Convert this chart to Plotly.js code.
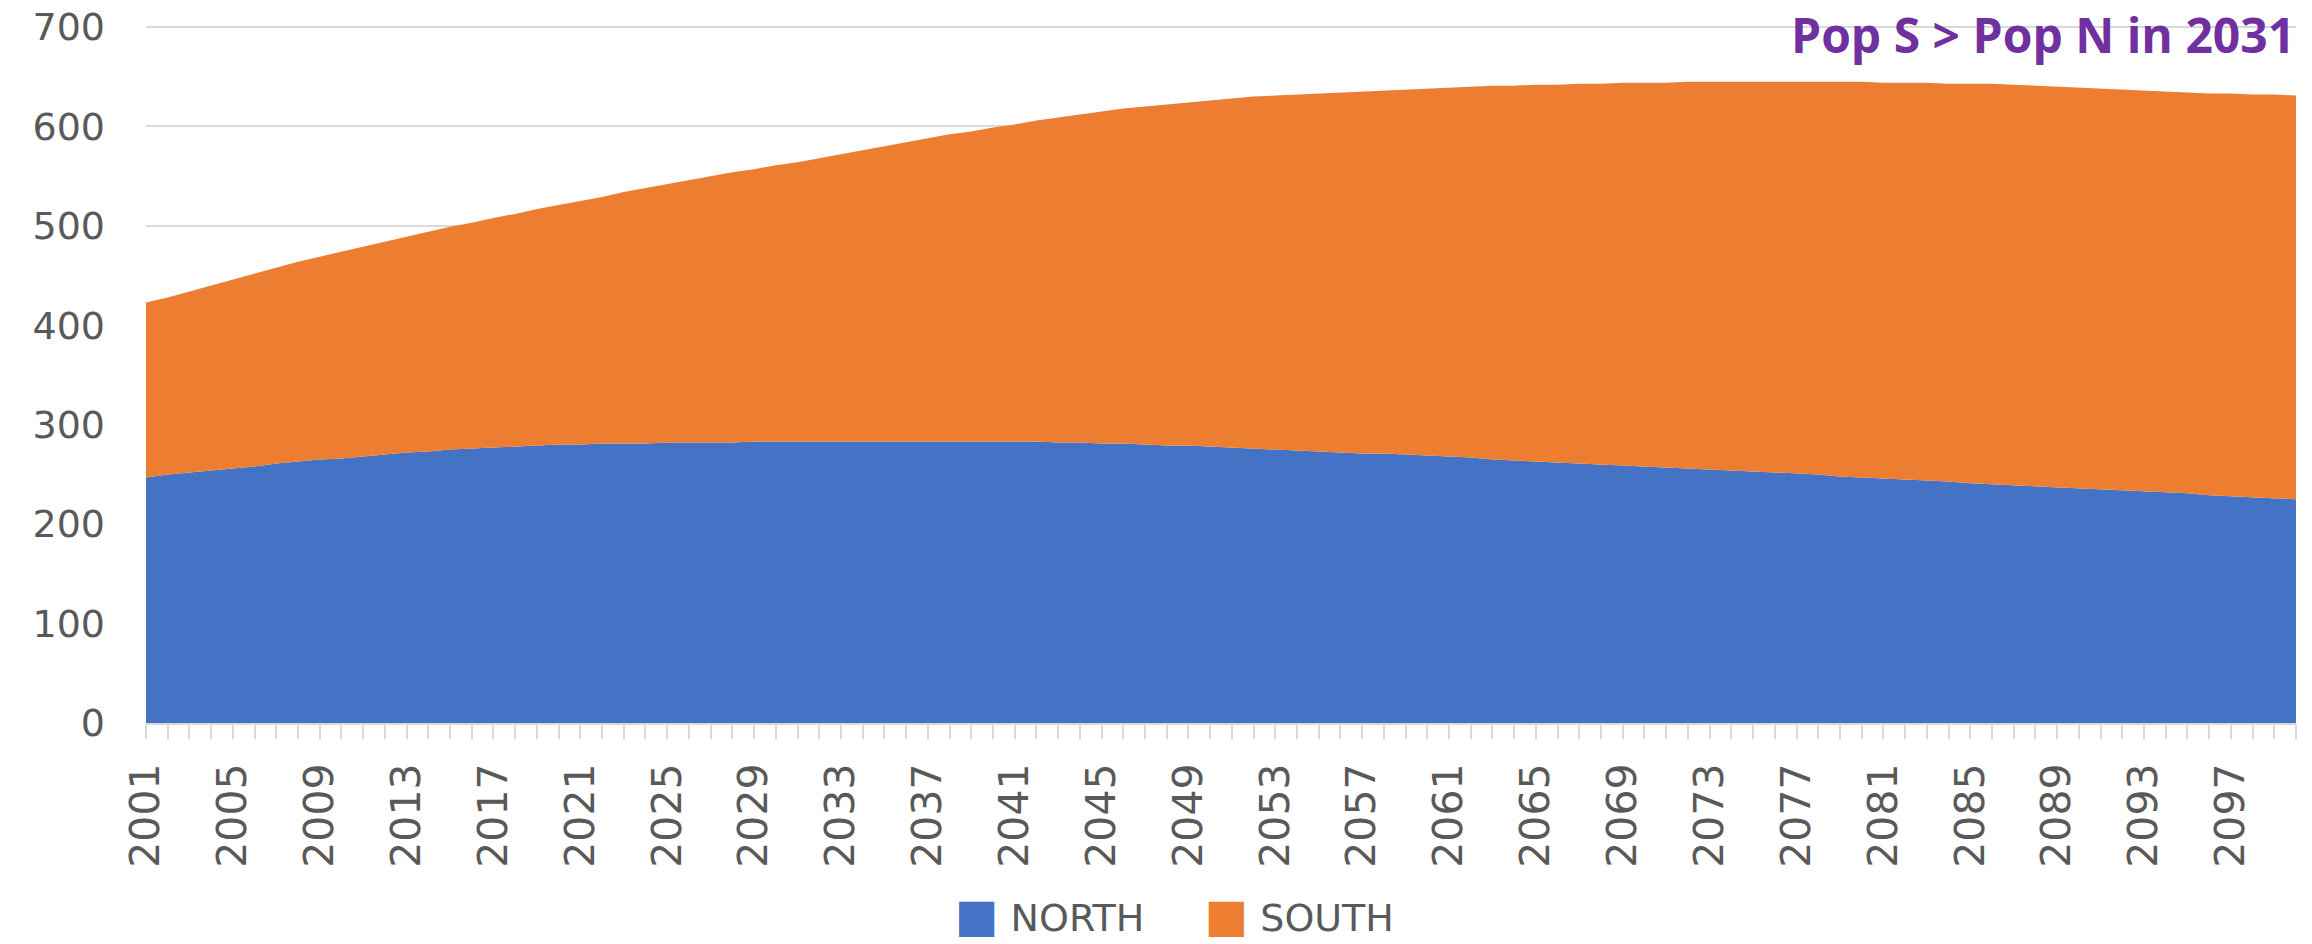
<!DOCTYPE html>
<html>
<head>
<meta charset="utf-8">
<script src="https://cdn.plot.ly/plotly-3.0.1.min.js"></script>
<style>
  html, body { margin: 0; padding: 0; background: #ffffff; }
  #chart { width: 2312px; height: 944px; }
</style>
</head>
<body>
<div id="chart"></div>
<script>
// Years 2001..2100 (category positions)
const years = Array.from({length: 100}, (_, i) => 2001 + i);

// Tick labels shown on the x axis
const tickLabels = ['2001','2005','2009','2013','2017','2021','2025','2029','2033','2037','2041','2045','2049','2053','2057','2061','2065','2069','2073','2077','2081','2085','2089','2093','2097'];

// NORTH population
const north = [
  247,250,252,254,256,258,261,263,265,266,
  268,270,272,273,275,276,277,278,279,280,
  280,281,281,281,282,282,282,282,283,283,
  283,283,283,283,283,283,283,283,283,283,
  283,283,282,282,281,281,280,279,279,278,
  277,276,275,274,273,272,271,271,270,269,
  268,267,265,264,263,262,261,260,259,258,
  257,256,255,254,253,252,251,250,248,247,
  246,245,244,243,241,240,239,238,237,236,
  235,234,233,232,231,229,228,227,226,225
];

// SOUTH population
const south = [
  176,178,182,186,190,194,197,201,204,208,
  211,214,217,221,224,227,231,234,238,241,
  245,248,253,257,260,264,268,272,274,278,
  281,285,289,293,297,301,305,309,312,316,
  319,323,327,330,334,337,340,343,345,348,
  351,354,356,358,360,362,364,365,367,369,
  371,373,376,377,379,380,382,383,385,386,
  387,389,390,391,392,393,394,395,397,398,
  398,399,400,400,402,403,403,403,403,403,
  403,403,403,403,403,404,405,405,406,406
];

const seriesNames = ['NORTH', 'SOUTH'];
const seriesColors = ['#4472C4', '#ED7D31'];
const yTicks = [0, 100, 200, 300, 400, 500, 600, 700];
const annotationText = 'Pop S > Pop N in 2031';

const traces = [
  {
    x: years, y: north, name: seriesNames[0], type: 'scatter', mode: 'lines',
    stackgroup: 'one', line: {width: 0, color: seriesColors[0]}, fillcolor: seriesColors[0],
    showlegend: false
  },
  {
    x: years, y: south, name: seriesNames[1], type: 'scatter', mode: 'lines',
    stackgroup: 'one', line: {width: 0, color: seriesColors[1]}, fillcolor: seriesColors[1],
    showlegend: false
  }
];

// Legend drawn as real text with coloured square glyphs
const sq = (c) => '<span style="color:' + c + ';font-size:46px">■</span>';
const legendText = seriesNames.map((n, i) => sq(seriesColors[i]) + '&nbsp;' + n).join('&nbsp;&nbsp;&nbsp;&nbsp;&nbsp;');

const layout = {
  width: 2312, height: 944,
  margin: {l: 146, r: 16, t: 22, b: 221},
  paper_bgcolor: '#ffffff', plot_bgcolor: '#ffffff',
  font: {family: 'DejaVu Sans, sans-serif', color: '#595959'},
  showlegend: false,
  xaxis: {
    type: 'linear', range: [years[0], years[years.length - 1]],
    tickmode: 'array', tickvals: tickLabels.map(Number), ticktext: tickLabels,
    tickangle: -90, tickfont: {size: 41, color: '#595959'},
    ticks: 'outside', ticklen: 14, tickcolor: '#d9d9d9', tickwidth: 2,
    ticklabelstandoff: 8,
    minor: {tickmode: 'linear', tick0: 2001, dtick: 1, ticks: 'outside', ticklen: 14, tickcolor: '#d9d9d9', tickwidth: 2, showgrid: false},
    showline: true, linecolor: '#d9d9d9', linewidth: 2,
    showgrid: false, zeroline: false, fixedrange: true
  },
  yaxis: {
    range: [0, 705], tickmode: 'array', tickvals: yTicks,
    tickfont: {size: 38, color: '#595959'},
    showgrid: true, gridcolor: '#d9d9d9', gridwidth: 2,
    zeroline: false, showline: false, ticks: '',
    ticklabelstandoff: 40, fixedrange: true
  },
  annotations: [
    {
      text: '<b>' + annotationText + '</b>',
      xref: 'paper', yref: 'paper', x: 0.764, y: 1.0314,
      xanchor: 'left', yanchor: 'top', showarrow: false,
      font: {family: 'Open Sans, sans-serif', size: 48, color: '#7030A0'}
    },
    {
      text: legendText,
      xref: 'paper', yref: 'paper', x: 0.4786, y: -0.315,
      xanchor: 'center', yanchor: 'bottom', showarrow: false,
      font: {family: 'DejaVu Sans, sans-serif', size: 38, color: '#595959'}
    }
  ]
};

Plotly.newPlot('chart', traces, layout, {displayModeBar: false, staticPlot: true});
</script>
</body>
</html>
